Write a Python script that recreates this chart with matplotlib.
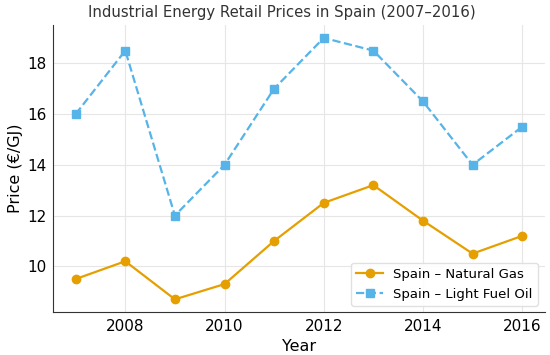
import matplotlib

matplotlib.use("Agg")
import matplotlib.pyplot as plt

years = [2007, 2008, 2009, 2010, 2011, 2012, 2013, 2014, 2015, 2016]
natural_gas = [9.5, 10.2, 8.7, 9.3, 11.0, 12.5, 13.2, 11.8, 10.5, 11.2]
light_fuel_oil = [16.0, 18.5, 12.0, 14.0, 17.0, 19.0, 18.5, 16.5, 14.0, 15.5]
x_ticks = [2008, 2010, 2012, 2014, 2016]

fig, ax = plt.subplots(figsize=(5.5, 3.55), dpi=100)
ax.plot(years, natural_gas, color="#E69F00", marker="o", markersize=6,
        linewidth=1.6, label="Spain – Natural Gas")
ax.plot(years, light_fuel_oil, color="#56B4E9", marker="s", markersize=5.5,
        linewidth=1.6, linestyle="--", label="Spain – Light Fuel Oil")

ax.set_xticks(x_ticks)
ax.set_title("Industrial Energy Retail Prices in Spain (2007–2016)",
             fontsize=10.7, color="#333333", x=0.466, pad=6)
ax.set_xlabel("Year", fontsize=11.5, labelpad=3)
ax.set_ylabel("Price (€/GJ)", fontsize=11.5, labelpad=3)
ax.tick_params(labelsize=11, length=0, pad=5)
ax.grid(True, color="#e6e6e6", linewidth=0.8)
ax.set_axisbelow(True)
for side in ("top", "right"):
    ax.spines[side].set_visible(False)
for side in ("left", "bottom"):
    ax.spines[side].set_color("#333333")
ax.legend(loc="lower right", fontsize=9.5, framealpha=0.9, edgecolor="#dddddd")

fig.subplots_adjust(left=0.097, right=0.99, bottom=0.12, top=0.93)
fig.savefig("out.png", dpi=100)
plt.close(fig)
